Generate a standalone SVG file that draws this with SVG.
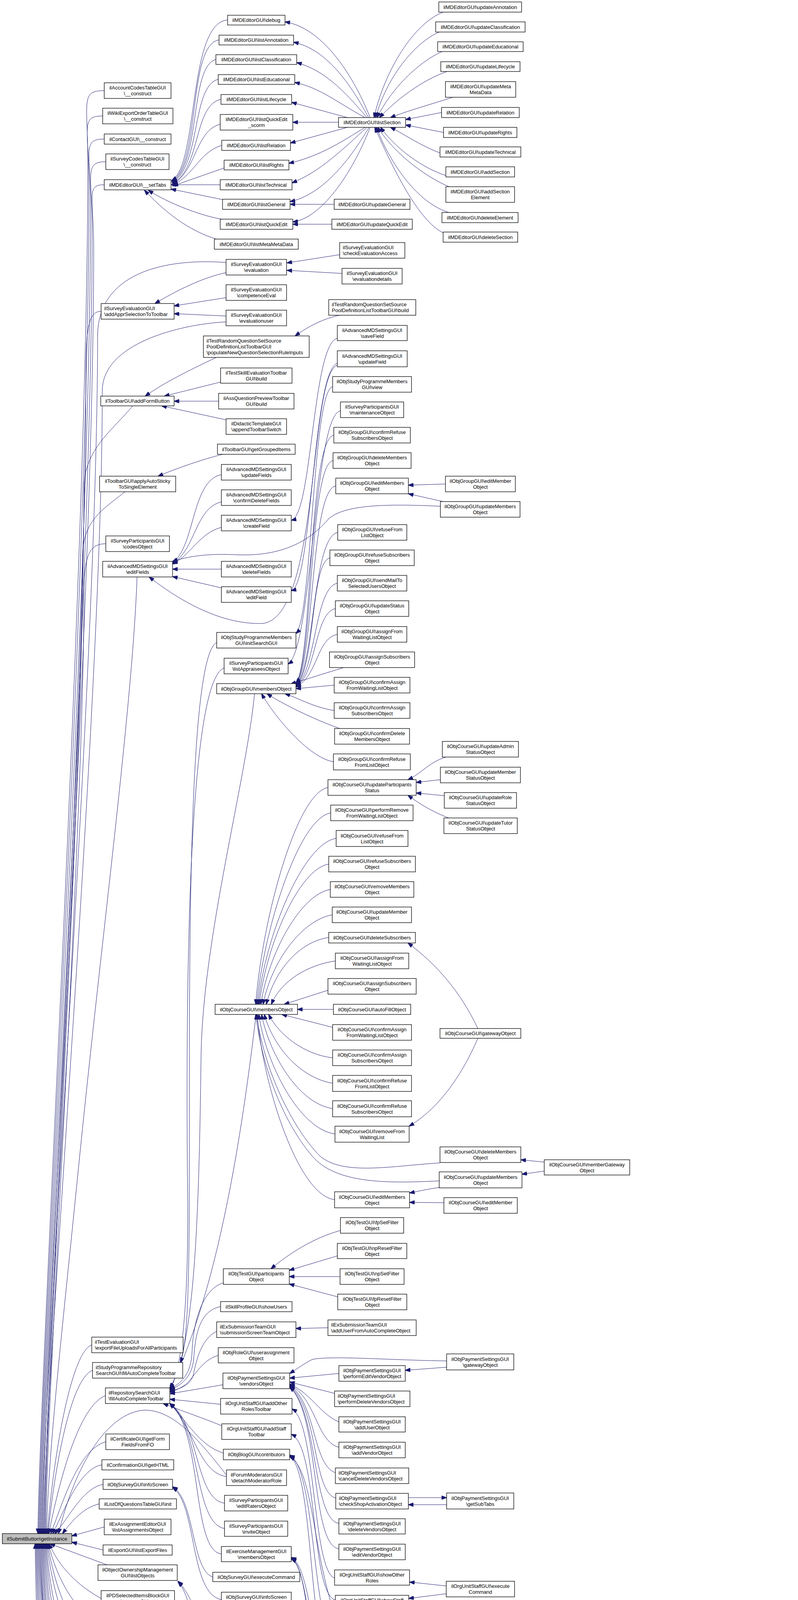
<svg xmlns="http://www.w3.org/2000/svg" width="2044" height="5769" viewBox="0 0 2044 5769">
<style>
.n rect{fill:#fff;stroke:#000;stroke-width:1.3}
#n_root rect{fill:#bfbfbf}
text{font-family:"Liberation Sans",Arial,Helvetica,sans-serif;font-size:13px;fill:#000;text-anchor:middle}
text.l{text-anchor:start}
#edges path{fill:none;stroke:#191970;stroke-width:1;marker-end:url(#ah)}
</style>
<defs>
<marker id="ah" viewBox="0 0 14 10" markerWidth="14" markerHeight="10" refX="13" refY="5" orient="auto" markerUnits="userSpaceOnUse"><path d="M0,0L14,5L0,10z" fill="#191970" stroke="#191970"/></marker>
</defs>
<rect width="2044" height="5769" fill="#fff"/>
<g id="edges">
<path d="M267,232 C205,232 225,260 225,420 C225,1400 102,3500 97,3926"/>
<path d="M263,297 C205,297 228,325 228,480 C228,1450 104,3500 99,3926"/>
<path d="M267,356 C210,356 232,385 232,530 C232,1500 106,3500 101,3926"/>
<path d="M271,414 C215,414 236,445 236,590 C236,1550 108,3500 103,3926"/>
<path d="M267,473 C220,473 240,500 240,640 C240,1600 110,3500 105,3926"/>
<path d="M579,672 C420,660 250,700 250,860 C250,1700 112,3500 107,3926"/>
<path d="M259,797 C230,797 220,830 220,950 C220,1800 114,3500 109,3926"/>
<path d="M579,824 C460,830 262,880 262,1000 C262,1800 116,3500 111,3926"/>
<path d="M340,1039 C290,1100 215,1150 215,1250 C215,1900 118,3500 113,3926"/>
<path d="M320,1259 C270,1300 212,1330 212,1420 C212,2000 120,3500 115,3926"/>
<path d="M271,1392 C230,1392 215,1420 215,1520 C215,2100 122,3500 117,3926"/>
<path d="M351,1477 C340,1800 260,2400 200,3000 C160,3400 125,3700 119,3926"/>
<path d="M235,3443 C185,3460 140,3700 121,3926"/>
<path d="M237,3508 C180,3530 140,3760 123,3926"/>
<path d="M270,3573 C200,3600 150,3800 125,3926"/>
<path d="M580,3776 C520,3700 450,3610 372,3610 C290,3612 200,3720 150,3926"/>
<path d="M271,3691 C200,3710 160,3850 130,3926"/>
<path d="M261,3750 C200,3760 160,3880 135,3926"/>
<path d="M264,3800 C210,3810 175,3890 140,3926"/>
<path d="M254,3850 C210,3860 180,3900 160,3926"/>
<path d="M267,3909 L184,3932"/>
<path d="M264,3968 L184,3948"/>
<path d="M274,4006 L128,3952"/>
<path d="M259,4092 C200,4060 150,4010 126,3952"/>
<path d="M251,4157 C190,4120 145,4040 124,3952"/>
<path d="M257,4223 C180,4180 140,4060 122,3952"/>
<path d="M260,4288 C180,4240 135,4080 120,3952"/>
<path d="M260,4353 C170,4300 130,4100 118,3952"/>
<path d="M258,4419 C165,4360 128,4120 116,3952"/>
<path d="M261,4484 C160,4420 125,4140 114,3952"/>
<path d="M283,4543 C160,4480 122,4160 112,3952"/>
<path d="M269,4601 C150,4540 120,4180 110,3952"/>
<path d="M282,4667 C150,4600 118,4200 108,3952"/>
<path d="M274,4732 C150,4660 116,4220 106,3952"/>
<path d="M272,4797 C145,4720 114,4240 104,3952"/>
<path d="M256,4855 C190,4820 112,4300 102,3952"/>
<path d="M305,4956 C230,4900 110,4350 100,3952"/>
<path d="M330,5139 C250,5030 108,4400 98,3952"/>
<path d="M337,5336 C240,5200 106,4450 96,3952"/>
<path d="M316,5460 C220,5350 104,4500 94,3952"/>
<path d="M330,5606 C210,5480 102,4550 92,3952"/>
<path d="M279,5669 C200,5660 100,4700 90,3952"/>
<path d="M1135,31 C1060,60 985,180 958,301"/>
<path d="M1125,82 C1060,110 990,200 962,301"/>
<path d="M1132,132 C1070,160 1000,230 966,301"/>
<path d="M1145,183 C1080,205 1010,260 972,301"/>
<path d="M1160,249 C1110,265 1040,285 1000,301"/>
<path d="M1131,288 L1039,306"/>
<path d="M1136,339 L1039,320"/>
<path d="M1165,402 C1100,390 1040,345 1000,326"/>
<path d="M1155,453 C1100,440 1020,390 975,326"/>
<path d="M1155,480 C1080,450 1000,380 968,326"/>
<path d="M1150,544 C1070,520 1000,420 964,326"/>
<path d="M1145,600 C1080,580 1010,440 960,326"/>
<path d="M948,301 C900,180 820,70 730,56"/>
<path d="M944,301 C890,200 830,125 752,108"/>
<path d="M940,301 C880,230 830,180 760,160"/>
<path d="M935,301 C860,260 820,225 755,211"/>
<path d="M890,301 L747,262"/>
<path d="M867,313 L750,313"/>
<path d="M890,326 L744,366"/>
<path d="M935,326 C880,360 820,400 740,418"/>
<path d="M940,326 C880,380 820,440 748,468"/>
<path d="M945,326 C890,420 820,500 743,516"/>
<path d="M948,326 C900,450 820,560 750,568"/>
<path d="M856,523 L743,523"/>
<path d="M850,574 L750,574"/>
<path d="M583,51 C480,60 510,420 440,462"/>
<path d="M561,102 C480,115 515,420 440,464"/>
<path d="M553,152 C485,170 515,420 441,466"/>
<path d="M559,203 C490,220 515,425 441,468"/>
<path d="M566,254 C495,270 515,430 442,470"/>
<path d="M564,318 C500,335 505,435 442,472"/>
<path d="M568,372 C510,390 500,445 443,474"/>
<path d="M574,430 L443,476"/>
<path d="M564,473 L438,473"/>
<path d="M575,512 L438,484"/>
<path d="M575,562 C520,555 430,520 380,487"/>
<path d="M557,613 C480,590 420,540 370,487"/>
<path d="M870,652 L735,673"/>
<path d="M876,700 L735,692"/>
<path d="M579,698 C520,710 450,745 397,777"/>
<path d="M579,762 L446,783"/>
<path d="M579,809 L446,803"/>
<path d="M554,915 C480,950 420,980 372,1014"/>
<path d="M870,807 C830,815 790,835 756,860"/>
<path d="M565,978 L421,1014"/>
<path d="M560,1027 L446,1027"/>
<path d="M580,1075 L414,1039"/>
<path d="M575,1162 C520,1175 450,1200 405,1219"/>
<path d="M567,1215 C490,1230 500,1400 442,1440"/>
<path d="M567,1285 C500,1300 500,1410 442,1442"/>
<path d="M567,1350 C510,1365 490,1420 442,1444"/>
<path d="M567,1457 L442,1457"/>
<path d="M567,1505 L442,1476"/>
<path d="M864,866 C800,880 800,1320 746,1332"/>
<path d="M864,930 C800,950 800,1500 746,1512"/>
<path d="M864,935 C790,960 820,1580 673,1596 C560,1600 450,1530 382,1477"/>
<path d="M1128,1296 C1000,1290 880,1290 840,1330 C780,1400 700,1425 600,1420 C520,1416 470,1428 442,1437"/>
<path d="M852,990 C800,1000 800,1580 758,1622"/>
<path d="M872,1052 C805,1060 800,1660 738,1700"/>
<path d="M855,1114 C790,1125 800,1700 758,1748"/>
<path d="M853,1179 C792,1190 802,1700 758,1750"/>
<path d="M860,1244 C795,1255 804,1705 758,1752"/>
<path d="M865,1363 C800,1375 806,1710 758,1754"/>
<path d="M845,1428 C795,1440 808,1715 758,1755"/>
<path d="M864,1493 C805,1505 810,1720 758,1757"/>
<path d="M859,1558 C805,1570 812,1725 758,1758"/>
<path d="M864,1624 C810,1635 815,1730 758,1759"/>
<path d="M880,1709 L745,1751"/>
<path d="M856,1754 L758,1763"/>
<path d="M856,1819 C800,1810 760,1785 730,1776"/>
<path d="M870,1865 C800,1840 720,1800 684,1776"/>
<path d="M854,1950 C790,1940 700,1830 670,1776"/>
<path d="M1141,1239 L1046,1242"/>
<path d="M1135,1284 L1046,1264"/>
<path d="M652,1776 C630,2000 520,2400 515,2700 C510,3100 500,3450 435,3553"/>
<path d="M656,2597 C620,2900 560,3300 435,3556"/>
<path d="M555,1645 C480,1680 485,2500 485,3000 C485,3300 480,3440 462,3488"/>
<path d="M574,1710 C490,1740 475,2400 480,3000 C485,3300 470,3500 435,3558"/>
<path d="M840,2016 C760,2030 672,2350 655,2571"/>
<path d="M847,2081 C765,2095 675,2380 658,2571"/>
<path d="M861,2146 C775,2160 678,2400 661,2571"/>
<path d="M842,2212 C765,2225 682,2420 664,2571"/>
<path d="M846,2277 C770,2290 688,2440 668,2571"/>
<path d="M851,2342 C775,2355 695,2460 674,2571"/>
<path d="M842,2400 C770,2410 705,2480 682,2571"/>
<path d="M859,2460 C790,2470 720,2510 695,2571"/>
<path d="M840,2535 L728,2571"/>
<path d="M854,2584 L762,2584"/>
<path d="M852,2630 L722,2597"/>
<path d="M852,2708 C780,2700 715,2650 688,2597"/>
<path d="M852,2773 C770,2760 700,2680 677,2597"/>
<path d="M852,2838 C765,2825 690,2700 670,2597"/>
<path d="M858,2903 C765,2890 680,2720 663,2597"/>
<path d="M857,3071 C760,3060 670,2760 659,2597"/>
<path d="M1127,2977 C1000,2985 880,3010 820,2960 C760,2900 680,2760 657,2597"/>
<path d="M1125,3023 C990,3030 860,3030 800,2960 C740,2890 675,2760 655,2597"/>
<path d="M1143,1938 C1100,1950 1080,1980 1045,1996"/>
<path d="M1128,1996 L1066,2003"/>
<path d="M1138,2037 L1066,2030"/>
<path d="M1150,2094 C1110,2080 1070,2055 1045,2036"/>
<path d="M1224,2633 C1180,2540 1120,2470 1045,2414"/>
<path d="M1224,2658 C1180,2760 1120,2840 1048,2883"/>
<path d="M1394,2975 L1334,2969"/>
<path d="M1394,2998 L1337,3006"/>
<path d="M1125,3040 C1100,3043 1070,3050 1049,3054"/>
<path d="M1137,3079 L1049,3078"/>
<path d="M872,3150 C800,3170 740,3210 694,3248"/>
<path d="M864,3215 L741,3252"/>
<path d="M871,3268 L741,3268"/>
<path d="M865,3320 L741,3287"/>
<path d="M572,3284 C520,3300 495,3380 492,3460 C490,3510 470,3540 435,3555"/>
<path d="M565,3345 C510,3355 500,3420 496,3480 C492,3520 470,3545 435,3558"/>
<path d="M840,3399 L758,3401"/>
<path d="M555,3408 C510,3430 500,3500 495,3520 C490,3540 470,3555 435,3561"/>
<path d="M559,3470 C520,3480 500,3520 480,3540 C470,3550 450,3560 435,3564"/>
<path d="M571,3545 L435,3568"/>
<path d="M565,3595 L435,3582"/>
<path d="M568,3650 C520,3630 460,3610 418,3593"/>
<path d="M572,3720 C510,3700 480,3640 435,3593"/>
<path d="M580,3780 C510,3770 500,3660 435,3593"/>
<path d="M575,3848 C500,3840 510,3640 435,3593"/>
<path d="M575,3913 C495,3900 515,3650 435,3593"/>
<path d="M567,3978 C490,3970 520,3660 435,3593"/>
<path d="M545,4037 C490,4020 500,3840 442,3806"/>
<path d="M567,4095 C485,4080 505,3850 442,3808"/>
<path d="M868,3516 L742,3528"/>
<path d="M857,3567 L742,3538"/>
<path d="M868,3640 C820,3620 800,3570 742,3543"/>
<path d="M868,3705 C810,3690 810,3580 742,3545"/>
<path d="M859,3770 C800,3750 810,3590 742,3547"/>
<path d="M860,3835 C800,3820 815,3600 742,3549"/>
<path d="M868,3900 C800,3890 815,3610 742,3550"/>
<path d="M868,3965 C795,3955 820,3620 742,3551"/>
<path d="M1144,3484 C1000,3482 850,3470 800,3480 C780,3490 760,3505 742,3516"/>
<path d="M1144,3500 L1038,3508"/>
<path d="M1046,3834 L1144,3834"/>
<path d="M1144,3852 L1046,3852"/>
<path d="M857,4040 C800,4020 810,3640 748,3607"/>
<path d="M859,4096 C795,4080 815,3700 746,3672"/>
<path d="M1143,4060 L1049,4050"/>
<path d="M1143,4080 L1047,4092"/>
<path d="M859,4198 C800,4180 810,3760 742,3725"/>
<path d="M849,4250 C790,4230 805,3770 742,3727"/>
<path d="M1139,4168 C1000,4172 900,4150 850,4110 C800,3950 800,3760 742,3729"/>
<path d="M1139,4186 L1047,4192"/>
<path d="M864,4305 C800,4290 800,4010 746,3987"/>
<path d="M840,4370 C790,4360 800,4015 746,3989"/>
<path d="M864,4435 C795,4425 805,4020 746,3991"/>
<path d="M555,4160 C500,4150 490,4080 456,4048"/>
<path d="M555,4225 C490,4210 495,4090 456,4050"/>
<path d="M575,4285 C520,4275 500,4200 456,4178"/>
<path d="M575,4282 L448,4245"/>
<path d="M871,4500 C800,4490 800,4320 738,4298"/>
<path d="M1160,4458 C1100,4470 1060,4480 1035,4490"/>
<path d="M1134,4504 L1035,4504"/>
<path d="M545,4357 L445,4355"/>
<path d="M561,4422 L448,4420"/>
<path d="M561,4487 C530,4480 480,4440 448,4437"/>
<path d="M572,4573 L436,4590"/>
<path d="M582,4645 C530,4660 470,4700 431,4712"/>
<path d="M878,4585 L731,4612"/>
<path d="M731,4635 C780,4640 840,4655 878,4668"/>
<path d="M878,4680 C820,4675 770,4660 724,4648"/>
<path d="M430,4725 C600,4715 800,4695 878,4693"/>
<path d="M731,4624 C900,4610 1050,4595 1155,4587"/>
<path d="M431,4735 C650,4745 850,4780 950,4822 C1020,4855 1080,4890 1155,4911"/>
<path d="M1160,4589 C1110,4605 1070,4640 1028,4668"/>
<path d="M1428,4632 C1250,4640 1100,4660 1028,4676"/>
<path d="M1153,4687 L1028,4687"/>
<path d="M1428,4792 C1250,4752 1100,4715 1028,4699"/>
<path d="M1160,4785 C1100,4770 1060,4730 1028,4704"/>
<path d="M1145,4855 C1090,4840 1070,4760 1028,4706"/>
<path d="M1155,4930 C1100,4920 1090,4800 1028,4707"/>
<path d="M1428,4829 L1316,4849"/>
<path d="M1428,4517 L1306,4552"/>
<path d="M1428,4566 L1306,4569"/>
<path d="M1428,4613 L1306,4587"/>
<path d="M1675,4631 L1579,4631"/>
<path d="M1675,4774 L1579,4793"/>
<path d="M1660,4813 L1579,4813"/>
<path d="M1888,4756 L1825,4756"/>
<path d="M600,4800 C540,4812 480,4828 432,4841"/>
<path d="M559,4847 L449,4857"/>
<path d="M559,4897 L449,4879"/>
<path d="M575,4958 C520,4945 440,4915 393,4882"/>
<path d="M567,5013 L442,4993"/>
<path d="M560,5115 L441,5139"/>
<path d="M558,5160 L441,5160"/>
<path d="M560,5205 L441,5181"/>
<path d="M560,5271 C520,5260 440,5220 386,5180"/>
<path d="M864,5094 L758,5095"/>
<path d="M868,5153 L755,5157"/>
<path d="M869,5204 L755,5218"/>
<path d="M854,5305 L752,5296"/>
<path d="M1118,5278 C1000,5277 850,5278 752,5283"/>
<path d="M1118,5290 L1052,5296"/>
<path d="M565,5349 L436,5349"/>
<path d="M580,5387 L430,5362"/>
<path d="M864,5355 L748,5352"/>
<path d="M890,5392 L730,5362"/>
<path d="M872,5478 C700,5470 550,5475 434,5476"/>
<path d="M575,5502 L434,5489"/>
<path d="M872,5564 C700,5565 550,5550 400,5500"/>
<path d="M872,5493 L737,5502"/>
<path d="M872,5546 L737,5524"/>
<path d="M1150,5486 L1034,5486"/>
<path d="M864,5625 L474,5620"/>
<path d="M565,5660 L420,5631"/>
<path d="M554,5727 C510,5715 500,5680 449,5631"/>
<path d="M875,5639 L748,5659"/>
<path d="M855,5678 L748,5678"/>
<path d="M1141,5626 L1042,5626"/>
</g>
<g id="n_root" class="n"><rect x="6" y="3926" width="178" height="26"/><text x="95" y="3943.5">ilSubmitButton\getInstance</text></g>
<g id="n_acct" class="n"><rect x="267" y="212" width="171" height="40"/><text x="352.5" y="229">ilAccountCodesTableGUI</text><text x="352.5" y="244">\__construct</text></g>
<g id="n_wiki" class="n"><rect x="263" y="277" width="180" height="40"/><text x="353" y="294">ilWikiExportOrderTableGUI</text><text x="353" y="309">\__construct</text></g>
<g id="n_contact" class="n"><rect x="267" y="343" width="171" height="26"/><text x="352.5" y="360.5">ilContactGUI\__construct</text></g>
<g id="n_svcodes" class="n"><rect x="271" y="394" width="162" height="40"/><text x="352" y="411">ilSurveyCodesTableGUI</text><text x="352" y="426">\__construct</text></g>
<g id="n_settabs" class="n"><rect x="267" y="460" width="171" height="26"/><text x="352.5" y="477.5">ilMDEditorGUI\__setTabs</text></g>
<g id="n_appr" class="n"><rect x="259" y="777" width="187" height="40"/><text class="l" x="267" y="794">ilSurveyEvaluationGUI</text><text class="l" x="267" y="809">\addApprSelectionToToolbar</text></g>
<g id="n_addform" class="n"><rect x="258" y="1014" width="188" height="25"/><text x="352" y="1031">ilToolbarGUI\addFormButton</text></g>
<g id="n_sticky" class="n"><rect x="255" y="1219" width="195" height="40"/><text x="352.5" y="1236">ilToolbarGUI\applyAutoSticky</text><text x="352.5" y="1251">ToSingleElement</text></g>
<g id="n_codes" class="n"><rect x="271" y="1372" width="163" height="40"/><text x="352.5" y="1389">ilSurveyParticipantsGUI</text><text x="352.5" y="1404">\codesObject</text></g>
<g id="n_editfields" class="n"><rect x="263" y="1437" width="179" height="40"/><text x="352.5" y="1454">ilAdvancedMDSettingsGUI</text><text x="352.5" y="1469">\editFields</text></g>
<g id="n_exportfu" class="n"><rect x="235" y="3423" width="234" height="40"/><text class="l" x="243" y="3440">ilTestEvaluationGUI</text><text class="l" x="243" y="3455">\exportFileUploadsForAllParticipants</text></g>
<g id="n_sprepo" class="n"><rect x="237" y="3488" width="231" height="40"/><text class="l" x="245" y="3505">ilStudyProgrammeRepository</text><text class="l" x="245" y="3520">SearchGUI\fillAutoCompleteToolbar</text></g>
<g id="n_reposearch" class="n"><rect x="270" y="3553" width="165" height="40"/><text class="l" x="278" y="3570">ilRepositorySearchGUI</text><text class="l" x="278" y="3585">\fillAutoCompleteToolbar</text></g>
<g id="n_cert" class="n"><rect x="271" y="3671" width="163" height="40"/><text x="352.5" y="3688">ilCertificateGUI\getForm</text><text x="352.5" y="3703">FieldsFromFO</text></g>
<g id="n_confirm" class="n"><rect x="261" y="3737" width="184" height="26"/><text x="353" y="3754.5">ilConfirmationGUI\getHTML</text></g>
<g id="n_infoscreen" class="n"><rect x="264" y="3787" width="178" height="26"/><text x="353" y="3804.5">ilObjSurveyGUI\infoScreen</text></g>
<g id="n_listq" class="n"><rect x="254" y="3837" width="198" height="26"/><text x="353" y="3854.5">ilListOfQuestionsTableGUI\init</text></g>
<g id="n_exassign" class="n"><rect x="267" y="3889" width="171" height="40"/><text x="352.5" y="3906">ilExAssignmentEditorGUI</text><text x="352.5" y="3921">\listAssignmentsObject</text></g>
<g id="n_export" class="n"><rect x="264" y="3955" width="177" height="26"/><text x="352.5" y="3972.5">ilExportGUI\listExportFiles</text></g>
<g id="n_ownlist" class="n"><rect x="251" y="4006" width="203" height="40"/><text x="352.5" y="4023">ilObjectOwnershipManagement</text><text x="352.5" y="4038">GUI\listObjects</text></g>
<g id="n_pdsel" class="n"><rect x="259" y="4072" width="188" height="40"/><text x="353" y="4089">ilPDSelectedItemsBlockGUI</text><text x="353" y="4104">\manageObject</text></g>
<g id="n_discard" class="n"><rect x="251" y="4137" width="203" height="40"/><text class="l" x="259" y="4154">ilTestPlayerAbstractGUI</text><text class="l" x="259" y="4169">\populateDiscardSolutionModal</text></g>
<g id="n_navwhile" class="n"><rect x="257" y="4203" width="191" height="40"/><text class="l" x="265" y="4220">ilTestPlayerAbstractGUI</text><text class="l" x="265" y="4235">\populateNavWhileEditModal</text></g>
<g id="n_printview" class="n"><rect x="260" y="4268" width="185" height="40"/><text x="352.5" y="4285">ilSurveyEditorGUI\printView</text><text x="352.5" y="4300">Object</text></g>
<g id="n_sedq" class="n"><rect x="260" y="4333" width="185" height="40"/><text x="352.5" y="4350">ilSurveyEditorGUI\questions</text><text x="352.5" y="4365">Object</text></g>
<g id="n_poolq" class="n"><rect x="258" y="4399" width="190" height="40"/><text x="353" y="4416">ilObjSurveyQuestionPoolGUI</text><text x="353" y="4431">\questionsObject</text></g>
<g id="n_redirinfo" class="n"><rect x="261" y="4465" width="182" height="39"/><text x="352" y="4482">ilObjTestGUI\redirectToInfo</text><text x="352" y="4497">ScreenObject</text></g>
<g id="n_blogrender" class="n"><rect x="283" y="4530" width="139" height="25"/><text x="352.5" y="4547">ilObjBlogGUI\render</text></g>
<g id="n_rendersubmit" class="n"><rect x="269" y="4582" width="167" height="39"/><text x="352.5" y="4599">ilTestQuestionNavigation</text><text x="352.5" y="4614">GUI\renderSubmitButton</text></g>
<g id="n_resetfilter" class="n"><rect x="282" y="4647" width="141" height="40"/><text x="352.5" y="4664">ilTestEvaluationGUI</text><text x="352.5" y="4679">\resetfilterEvaluation</text></g>
<g id="n_runfinished" class="n"><rect x="274" y="4712" width="156" height="40"/><text x="352" y="4729">ilSurveyExecutionGUI</text><text x="352" y="4744">\runShowFinishedPage</text></g>
<g id="n_share" class="n"><rect x="272" y="4778" width="162" height="39"/><text x="353" y="4795">ilWorkspaceAccessGUI</text><text x="353" y="4810">\share</text></g>
<g id="n_showmark" class="n"><rect x="256" y="4842" width="193" height="40"/><text x="352.5" y="4859">ilMarkSchemaGUI\showMark</text><text x="352.5" y="4874">Schema</text></g>
<g id="n_showpart" class="n"><rect x="263" y="4956" width="179" height="40"/><text x="352.5" y="4973">ilExerciseManagementGUI</text><text x="352.5" y="4988">\showParticipantObject</text></g>
<g id="n_showpaste" class="n"><rect x="264" y="5139" width="177" height="41"/><text x="352.5" y="5157">ilContainerGUI\showPaste</text><text x="352.5" y="5172">TreeObject</text></g>
<g id="n_showsearch" class="n"><rect x="268" y="5336" width="168" height="26"/><text x="352" y="5353.5">ilSearchGUI\showSearch</text></g>
<g id="n_lusform" class="n"><rect x="272" y="5460" width="162" height="40"/><text x="353" y="5477">ilLuceneUserSearchGUI</text><text x="353" y="5492">\showSearchForm</text></g>
<g id="n_lsform" class="n"><rect x="232" y="5606" width="242" height="25"/><text x="353" y="5623">ilLuceneSearchGUI\showSearchForm</text></g>
<g id="n_exccrit" class="n"><rect x="279" y="5656" width="148" height="26"/><text x="353" y="5673.5">ilExcCriteriaGUI\view</text></g>
<g id="n_debug" class="n"><rect x="583" y="39" width="147" height="25"/><text x="656.5" y="56">ilMDEditorGUI\debug</text></g>
<g id="n_lannot" class="n"><rect x="561" y="90" width="191" height="25"/><text x="656.5" y="107">ilMDEditorGUI\listAnnotation</text></g>
<g id="n_lclass" class="n"><rect x="553" y="140" width="207" height="25"/><text x="656.5" y="157">ilMDEditorGUI\listClassification</text></g>
<g id="n_ledu" class="n"><rect x="559" y="191" width="196" height="25"/><text x="657" y="208">ilMDEditorGUI\listEducational</text></g>
<g id="n_llife" class="n"><rect x="566" y="242" width="181" height="25"/><text x="656.5" y="259">ilMDEditorGUI\listLifecycle</text></g>
<g id="n_lqes" class="n"><rect x="564" y="293" width="186" height="40"/><text x="657" y="310">ilMDEditorGUI\listQuickEdit</text><text x="657" y="325">_scorm</text></g>
<g id="n_lrel" class="n"><rect x="568" y="359" width="176" height="26"/><text x="656" y="376.5">ilMDEditorGUI\listRelation</text></g>
<g id="n_lrights" class="n"><rect x="574" y="410" width="166" height="25"/><text x="657" y="427">ilMDEditorGUI\listRights</text></g>
<g id="n_ltech" class="n"><rect x="564" y="460" width="184" height="26"/><text x="656" y="477.5">ilMDEditorGUI\listTechnical</text></g>
<g id="n_lgen" class="n"><rect x="570" y="510" width="173" height="26"/><text x="656.5" y="527.5">ilMDEditorGUI\listGeneral</text></g>
<g id="n_lqe" class="n"><rect x="564" y="561" width="186" height="26"/><text x="657" y="578.5">ilMDEditorGUI\listQuickEdit</text></g>
<g id="n_lmeta" class="n"><rect x="549" y="612" width="215" height="26"/><text x="656.5" y="629.5">ilMDEditorGUI\listMetaMetaData</text></g>
<g id="n_eval" class="n"><rect x="579" y="664" width="155" height="40"/><text x="656.5" y="681">ilSurveyEvaluationGUI</text><text x="656.5" y="696">\evaluation</text></g>
<g id="n_comp" class="n"><rect x="579" y="729" width="155" height="40"/><text x="656.5" y="746">ilSurveyEvaluationGUI</text><text x="656.5" y="761">\competenceEval</text></g>
<g id="n_evuser" class="n"><rect x="579" y="794" width="155" height="40"/><text x="656.5" y="811">ilSurveyEvaluationGUI</text><text x="656.5" y="826">\evaluationuser</text></g>
<g id="n_popnew" class="n"><rect x="521" y="860" width="271" height="55"/><text class="l" x="529" y="877">ilTestRandomQuestionSetSource</text><text class="l" x="529" y="892">PoolDefinitionListToolbarGUI</text><text class="l" x="529" y="907">\populateNewQuestionSelectionRuleInputs</text></g>
<g id="n_skilltb" class="n"><rect x="565" y="942" width="183" height="39"/><text x="656.5" y="959">ilTestSkillEvaluationToolbar</text><text x="656.5" y="974">GUI\build</text></g>
<g id="n_assprev" class="n"><rect x="560" y="1007" width="193" height="40"/><text x="656.5" y="1024">ilAssQuestionPreviewToolbar</text><text x="656.5" y="1039">GUI\build</text></g>
<g id="n_didactic" class="n"><rect x="579" y="1072" width="155" height="40"/><text x="656.5" y="1089">ilDidacticTemplateGUI</text><text x="656.5" y="1104">\appendToolbarSwitch</text></g>
<g id="n_grouped" class="n"><rect x="557" y="1137" width="199" height="26"/><text x="656.5" y="1154.5">ilToolbarGUI\getGroupedItems</text></g>
<g id="n_updfields" class="n"><rect x="567" y="1189" width="179" height="40"/><text x="656.5" y="1206">ilAdvancedMDSettingsGUI</text><text x="656.5" y="1221">\updateFields</text></g>
<g id="n_confdel" class="n"><rect x="567" y="1254" width="179" height="40"/><text x="656.5" y="1271">ilAdvancedMDSettingsGUI</text><text x="656.5" y="1286">\confirmDeleteFields</text></g>
<g id="n_createf" class="n"><rect x="567" y="1319" width="179" height="40"/><text x="656.5" y="1336">ilAdvancedMDSettingsGUI</text><text x="656.5" y="1351">\createField</text></g>
<g id="n_delf" class="n"><rect x="567" y="1437" width="179" height="40"/><text x="656.5" y="1454">ilAdvancedMDSettingsGUI</text><text x="656.5" y="1469">\deleteFields</text></g>
<g id="n_editf" class="n"><rect x="567" y="1502" width="179" height="40"/><text x="656.5" y="1519">ilAdvancedMDSettingsGUI</text><text x="656.5" y="1534">\editField</text></g>
<g id="n_initsearch" class="n"><rect x="555" y="1619" width="203" height="40"/><text x="656.5" y="1636">ilObjStudyProgrammeMembers</text><text x="656.5" y="1651">GUI\initSearchGUI</text></g>
<g id="n_listappr" class="n"><rect x="574" y="1685" width="164" height="40"/><text x="656" y="1702">ilSurveyParticipantsGUI</text><text x="656" y="1717">\listAppraiseesObject</text></g>
<g id="n_grpmembers" class="n"><rect x="555" y="1750" width="203" height="26"/><text x="656.5" y="1767.5">ilObjGroupGUI\membersObject</text></g>
<g id="n_crsmembers" class="n"><rect x="551" y="2571" width="211" height="26"/><text x="656.5" y="2588.5">ilObjCourseGUI\membersObject</text></g>
<g id="n_participants" class="n"><rect x="572" y="3248" width="169" height="40"/><text x="656.5" y="3265">ilObjTestGUI\participants</text><text x="656.5" y="3280">Object</text></g>
<g id="n_showusers" class="n"><rect x="565" y="3332" width="183" height="26"/><text x="656.5" y="3349.5">ilSkillProfileGUI\showUsers</text></g>
<g id="n_subteam" class="n"><rect x="555" y="3384" width="203" height="40"/><text class="l" x="563" y="3401">ilExSubmissionTeamGUI</text><text class="l" x="563" y="3416">\submissionScreenTeamObject</text></g>
<g id="n_userassign" class="n"><rect x="559" y="3450" width="194" height="39"/><text x="656" y="3467">ilObjRoleGUI\userassignment</text><text x="656" y="3482">Object</text></g>
<g id="n_vendors" class="n"><rect x="571" y="3515" width="171" height="40"/><text x="656.5" y="3532">ilObjPaymentSettingsGUI</text><text x="656.5" y="3547">\vendorsObject</text></g>
<g id="n_addother" class="n"><rect x="565" y="3580" width="183" height="40"/><text x="656.5" y="3597">ilOrgUnitStaffGUI\addOther</text><text x="656.5" y="3612">RolesToolbar</text></g>
<g id="n_addstaff" class="n"><rect x="568" y="3645" width="178" height="40"/><text x="657" y="3662">ilOrgUnitStaffGUI\addStaff</text><text x="657" y="3677">Toolbar</text></g>
<g id="n_contrib" class="n"><rect x="572" y="3710" width="170" height="27"/><text x="657" y="3728">ilObjBlogGUI\contributors</text></g>
<g id="n_detach" class="n"><rect x="580" y="3763" width="154" height="40"/><text x="657" y="3780">ilForumModeratorsGUI</text><text x="657" y="3795">\detachModeratorRole</text></g>
<g id="n_editraters" class="n"><rect x="575" y="3828" width="162" height="40"/><text x="656" y="3845">ilSurveyParticipantsGUI</text><text x="656" y="3860">\editRatersObject</text></g>
<g id="n_invite" class="n"><rect x="575" y="3894" width="162" height="39"/><text x="656" y="3911">ilSurveyParticipantsGUI</text><text x="656" y="3926">\inviteObject</text></g>
<g id="n_exmembers" class="n"><rect x="567" y="3959" width="179" height="39"/><text x="656.5" y="3976">ilExerciseManagementGUI</text><text x="656.5" y="3991">\membersObject</text></g>
<g id="n_svexec" class="n"><rect x="545" y="4025" width="223" height="24"/><text x="656.5" y="4041.5">ilObjSurveyGUI\executeCommand</text></g>
<g id="n_infoobj" class="n"><rect x="567" y="4076" width="179" height="39"/><text x="656.5" y="4093">ilObjSurveyGUI\infoScreen</text><text x="656.5" y="4108">Object</text></g>
<g id="n_ownapply" class="n"><rect x="555" y="4141" width="203" height="40"/><text x="656.5" y="4158">ilObjectOwnershipManagement</text><text x="656.5" y="4173">GUI\applyFilter</text></g>
<g id="n_ownreset" class="n"><rect x="555" y="4207" width="203" height="39"/><text x="656.5" y="4224">ilObjectOwnershipManagement</text><text x="656.5" y="4239">GUI\resetFilter</text></g>
<g id="n_popmodals" class="n"><rect x="575" y="4272" width="163" height="40"/><text x="656.5" y="4289">ilTestPlayerAbstractGUI</text><text x="656.5" y="4304">\populateModals</text></g>
<g id="n_moveq" class="n"><rect x="545" y="4338" width="223" height="39"/><text x="656.5" y="4355">ilSurveyEditorGUI\moveQuestions</text><text x="656.5" y="4370">Object</text></g>
<g id="n_delq" class="n"><rect x="561" y="4403" width="190" height="39"/><text x="656" y="4420">ilObjSurveyQuestionPoolGUI</text><text x="656" y="4435">\deleteQuestionsObject</text></g>
<g id="n_expq" class="n"><rect x="561" y="4469" width="190" height="39"/><text x="656" y="4486">ilObjSurveyQuestionPoolGUI</text><text x="656" y="4501">\exportQuestionObject</text></g>
<g id="n_tqngethtml" class="n"><rect x="572" y="4543" width="168" height="39"/><text x="656" y="4560">ilTestQuestionNavigation</text><text x="656" y="4575">GUI\getHTML</text></g>
<g id="n_outsurvey" class="n"><rect x="582" y="4608" width="149" height="39"/><text x="656.5" y="4625">ilSurveyExecutionGUI</text><text x="656.5" y="4640">\outSurveyPage</text></g>
<g id="n_addmarkstep" class="n"><rect x="551" y="4775" width="211" height="25"/><text x="656.5" y="4792">ilMarkSchemaGUI\addMarkStep</text></g>
<g id="n_addsimple" class="n"><rect x="559" y="4827" width="195" height="40"/><text x="656.5" y="4844">ilMarkSchemaGUI\addSimple</text><text x="656.5" y="4859">MarkSchema</text></g>
<g id="n_delmark" class="n"><rect x="558" y="4892" width="198" height="40"/><text x="657" y="4909">ilMarkSchemaGUI\deleteMark</text><text x="657" y="4924">Steps</text></g>
<g id="n_saveects" class="n"><rect x="547" y="4958" width="219" height="26"/><text x="656.5" y="4975.5">ilMarkSchemaGUI\saveEctsForm</text></g>
<g id="n_selpart" class="n"><rect x="567" y="5009" width="179" height="41"/><text x="656.5" y="5027">ilExerciseManagementGUI</text><text x="656.5" y="5042">\selectParticipantObject</text></g>
<g id="n_initcopy" class="n"><rect x="555" y="5074" width="203" height="41"/><text x="656.5" y="5092">ilContainerGUI\initAndDisplay</text><text x="656.5" y="5107">CopyIntoMultipleObjectsObject</text></g>
<g id="n_initlink" class="n"><rect x="558" y="5140" width="197" height="40"/><text x="656.5" y="5157">ilContainerGUI\initAndDisplay</text><text x="656.5" y="5172">LinkIntoMultipleObjectsObject</text></g>
<g id="n_initmove" class="n"><rect x="558" y="5205" width="197" height="40"/><text x="656.5" y="5222">ilContainerGUI\initAndDisplay</text><text x="656.5" y="5237">MoveIntoObjectObject</text></g>
<g id="n_performpaste" class="n"><rect x="561" y="5271" width="191" height="40"/><text x="656.5" y="5288">ilContainerGUI\performPaste</text><text x="656.5" y="5303">IntoMultipleObjectsObject</text></g>
<g id="n_sperform" class="n"><rect x="565" y="5336" width="183" height="26"/><text x="656.5" y="5353.5">ilSearchGUI\performSearch</text></g>
<g id="n_ssaved" class="n"><rect x="551" y="5387" width="211" height="26"/><text x="656.5" y="5404.5">ilSearchGUI\showSavedResults</text></g>
<g id="n_lusperform" class="n"><rect x="575" y="5490" width="162" height="39"/><text x="656" y="5507">ilLuceneUserSearchGUI</text><text x="656" y="5522">\performSearch</text></g>
<g id="n_lsperform" class="n"><rect x="565" y="5658" width="183" height="39"/><text x="656.5" y="5675">ilLuceneSearchGUI\perform</text><text x="656.5" y="5690">Search</text></g>
<g id="n_lssaved" class="n"><rect x="554" y="5723" width="206" height="39"/><text x="657" y="5740">ilLuceneSearchGUI\showSaved</text><text x="657" y="5755">Results</text></g>
<g id="n_listsection" class="n"><rect x="867" y="301" width="172" height="25"/><text x="953" y="318">ilMDEditorGUI\listSection</text></g>
<g id="n_updgen" class="n"><rect x="856" y="510" width="194" height="26"/><text x="953" y="527.5">ilMDEditorGUI\updateGeneral</text></g>
<g id="n_updqe" class="n"><rect x="850" y="561" width="206" height="26"/><text x="953" y="578.5">ilMDEditorGUI\updateQuickEdit</text></g>
<g id="n_checkeval" class="n"><rect x="870" y="621" width="167" height="40"/><text class="l" x="878" y="638">ilSurveyEvaluationGUI</text><text class="l" x="878" y="653">\checkEvaluationAccess</text></g>
<g id="n_evaldet" class="n"><rect x="876" y="687" width="154" height="40"/><text x="953" y="704">ilSurveyEvaluationGUI</text><text x="953" y="719">\evaluationdetails</text></g>
<g id="n_trbuild" class="n"><rect x="842" y="767" width="223" height="40"/><text class="l" x="850" y="784">ilTestRandomQuestionSetSource</text><text class="l" x="850" y="799">PoolDefinitionListToolbarGUI\build</text></g>
<g id="n_savefield" class="n"><rect x="864" y="833" width="179" height="39"/><text x="953.5" y="850">ilAdvancedMDSettingsGUI</text><text x="953.5" y="865">\saveField</text></g>
<g id="n_updfield" class="n"><rect x="864" y="898" width="179" height="41"/><text x="953.5" y="916">ilAdvancedMDSettingsGUI</text><text x="953.5" y="931">\updateField</text></g>
<g id="n_spview" class="n"><rect x="852" y="964" width="202" height="40"/><text x="953" y="981">ilObjStudyProgrammeMembers</text><text x="953" y="996">GUI\view</text></g>
<g id="n_maint" class="n"><rect x="872" y="1029" width="162" height="40"/><text x="953" y="1046">ilSurveyParticipantsGUI</text><text x="953" y="1061">\maintenanceObject</text></g>
<g id="n_g_confrefsub" class="n"><rect x="855" y="1094" width="196" height="40"/><text x="953" y="1111">ilObjGroupGUI\confirmRefuse</text><text x="953" y="1126">SubscribersObject</text></g>
<g id="n_g_delmem" class="n"><rect x="853" y="1159" width="200" height="40"/><text x="953" y="1176">ilObjGroupGUI\deleteMembers</text><text x="953" y="1191">Object</text></g>
<g id="n_g_editmem" class="n"><rect x="860" y="1224" width="186" height="40"/><text x="953" y="1241">ilObjGroupGUI\editMembers</text><text x="953" y="1256">Object</text></g>
<g id="n_g_reffrom" class="n"><rect x="865" y="1343" width="177" height="40"/><text x="953.5" y="1360">ilObjGroupGUI\refuseFrom</text><text x="953.5" y="1375">ListObject</text></g>
<g id="n_g_refsub" class="n"><rect x="845" y="1408" width="216" height="40"/><text x="953" y="1425">ilObjGroupGUI\refuseSubscribers</text><text x="953" y="1440">Object</text></g>
<g id="n_g_sendmail" class="n"><rect x="864" y="1473" width="178" height="40"/><text x="953" y="1490">ilObjGroupGUI\sendMailTo</text><text x="953" y="1505">SelectedUsersObject</text></g>
<g id="n_g_updstatus" class="n"><rect x="859" y="1538" width="188" height="40"/><text x="953" y="1555">ilObjGroupGUI\updateStatus</text><text x="953" y="1570">Object</text></g>
<g id="n_g_assignwait" class="n"><rect x="864" y="1604" width="178" height="40"/><text x="953" y="1621">ilObjGroupGUI\assignFrom</text><text x="953" y="1636">WaitingListObject</text></g>
<g id="n_g_assignsub" class="n"><rect x="844" y="1669" width="218" height="40"/><text x="953" y="1686">ilObjGroupGUI\assignSubscribers</text><text x="953" y="1701">Object</text></g>
<g id="n_g_confassignwait" class="n"><rect x="856" y="1734" width="194" height="40"/><text x="953" y="1751">ilObjGroupGUI\confirmAssign</text><text x="953" y="1766">FromWaitingListObject</text></g>
<g id="n_g_confassignsub" class="n"><rect x="856" y="1799" width="194" height="40"/><text x="953" y="1816">ilObjGroupGUI\confirmAssign</text><text x="953" y="1831">SubscribersObject</text></g>
<g id="n_g_confdelmem" class="n"><rect x="857" y="1865" width="192" height="40"/><text x="953" y="1882">ilObjGroupGUI\confirmDelete</text><text x="953" y="1897">MembersObject</text></g>
<g id="n_g_confreffrom" class="n"><rect x="854" y="1930" width="197" height="41"/><text x="952.5" y="1948">ilObjGroupGUI\confirmRefuse</text><text x="952.5" y="1963">FromListObject</text></g>
<g id="n_c_updpart" class="n"><rect x="840" y="1996" width="226" height="40"/><text x="953" y="2013">ilObjCourseGUI\updateParticipants</text><text x="953" y="2028">Status</text></g>
<g id="n_c_perfremove" class="n"><rect x="847" y="2061" width="211" height="40"/><text x="952.5" y="2078">ilObjCourseGUI\performRemove</text><text x="952.5" y="2093">FromWaitingListObject</text></g>
<g id="n_c_reffrom" class="n"><rect x="861" y="2126" width="184" height="41"/><text x="953" y="2144">ilObjCourseGUI\refuseFrom</text><text x="953" y="2159">ListObject</text></g>
<g id="n_c_refsub" class="n"><rect x="842" y="2192" width="222" height="40"/><text x="953" y="2209">ilObjCourseGUI\refuseSubscribers</text><text x="953" y="2224">Object</text></g>
<g id="n_c_remmem" class="n"><rect x="846" y="2257" width="214" height="40"/><text x="953" y="2274">ilObjCourseGUI\removeMembers</text><text x="953" y="2289">Object</text></g>
<g id="n_c_updmem" class="n"><rect x="851" y="2322" width="203" height="40"/><text x="952.5" y="2339">ilObjCourseGUI\updateMember</text><text x="952.5" y="2354">Object</text></g>
<g id="n_c_delsub" class="n"><rect x="842" y="2387" width="222" height="27"/><text x="953" y="2405">ilObjCourseGUI\deleteSubscribers</text></g>
<g id="n_c_assignwait" class="n"><rect x="859" y="2440" width="188" height="40"/><text x="953" y="2457">ilObjCourseGUI\assignFrom</text><text x="953" y="2472">WaitingListObject</text></g>
<g id="n_c_assignsub" class="n"><rect x="840" y="2505" width="226" height="40"/><text x="953" y="2522">ilObjCourseGUI\assignSubscribers</text><text x="953" y="2537">Object</text></g>
<g id="n_c_autofill" class="n"><rect x="854" y="2571" width="198" height="26"/><text x="953" y="2588.5">ilObjCourseGUI\autoFillObject</text></g>
<g id="n_c_confassignwait" class="n"><rect x="852" y="2623" width="202" height="40"/><text x="953" y="2640">ilObjCourseGUI\confirmAssign</text><text x="953" y="2655">FromWaitingListObject</text></g>
<g id="n_c_confassignsub" class="n"><rect x="852" y="2688" width="202" height="40"/><text x="953" y="2705">ilObjCourseGUI\confirmAssign</text><text x="953" y="2720">SubscribersObject</text></g>
<g id="n_c_confreffrom" class="n"><rect x="852" y="2753" width="202" height="41"/><text x="953" y="2771">ilObjCourseGUI\confirmRefuse</text><text x="953" y="2786">FromListObject</text></g>
<g id="n_c_confrefsub" class="n"><rect x="852" y="2818" width="202" height="41"/><text x="953" y="2836">ilObjCourseGUI\confirmRefuse</text><text x="953" y="2851">SubscribersObject</text></g>
<g id="n_c_remwait" class="n"><rect x="858" y="2883" width="190" height="41"/><text x="953" y="2901">ilObjCourseGUI\removeFrom</text><text x="953" y="2916">WaitingList</text></g>
<g id="n_c_editmems" class="n"><rect x="857" y="3051" width="192" height="41"/><text x="953" y="3069">ilObjCourseGUI\editMembers</text><text x="953" y="3084">Object</text></g>
<g id="n_t_fpset" class="n"><rect x="872" y="3117" width="162" height="40"/><text x="953" y="3134">ilObjTestGUI\fpSetFilter</text><text x="953" y="3149">Object</text></g>
<g id="n_t_npreset" class="n"><rect x="864" y="3183" width="178" height="39"/><text x="953" y="3200">ilObjTestGUI\npResetFilter</text><text x="953" y="3215">Object</text></g>
<g id="n_t_npset" class="n"><rect x="871" y="3248" width="164" height="40"/><text x="953" y="3265">ilObjTestGUI\npSetFilter</text><text x="953" y="3280">Object</text></g>
<g id="n_t_fpreset" class="n"><rect x="865" y="3313" width="177" height="40"/><text x="953.5" y="3330">ilObjTestGUI\fpResetFilter</text><text x="953.5" y="3345">Object</text></g>
<g id="n_exaddauto" class="n"><rect x="840" y="3379" width="226" height="40"/><text class="l" x="848" y="3396">ilExSubmissionTeamGUI</text><text class="l" x="848" y="3411">\addUserFromAutoCompleteObject</text></g>
<g id="n_p_perfedit" class="n"><rect x="868" y="3496" width="170" height="40"/><text x="953" y="3513">ilObjPaymentSettingsGUI</text><text x="953" y="3528">\performEditVendorObject</text></g>
<g id="n_p_perfdel" class="n"><rect x="857" y="3561" width="193" height="40"/><text class="l" x="865" y="3578">ilObjPaymentSettingsGUI</text><text class="l" x="865" y="3593">\performDeleteVendorsObject</text></g>
<g id="n_p_adduser" class="n"><rect x="868" y="3627" width="170" height="39"/><text x="953" y="3644">ilObjPaymentSettingsGUI</text><text x="953" y="3659">\addUserObject</text></g>
<g id="n_p_addvendor" class="n"><rect x="868" y="3692" width="170" height="40"/><text x="953" y="3709">ilObjPaymentSettingsGUI</text><text x="953" y="3724">\addVendorObject</text></g>
<g id="n_p_canceldel" class="n"><rect x="859" y="3758" width="188" height="40"/><text class="l" x="867" y="3775">ilObjPaymentSettingsGUI</text><text class="l" x="867" y="3790">\cancelDeleteVendorsObject</text></g>
<g id="n_p_checkshop" class="n"><rect x="860" y="3823" width="186" height="40"/><text class="l" x="868" y="3840">ilObjPaymentSettingsGUI</text><text class="l" x="868" y="3855">\checkShopActivationObject</text></g>
<g id="n_p_delvendors" class="n"><rect x="868" y="3888" width="170" height="39"/><text x="953" y="3905">ilObjPaymentSettingsGUI</text><text x="953" y="3920">\deleteVendorsObject</text></g>
<g id="n_p_editvendor" class="n"><rect x="868" y="3953" width="170" height="40"/><text x="953" y="3970">ilObjPaymentSettingsGUI</text><text x="953" y="3985">\editVendorObject</text></g>
<g id="n_o_showother" class="n"><rect x="857" y="4019" width="192" height="39"/><text x="953" y="4036">ilOrgUnitStaffGUI\showOther</text><text x="953" y="4051">Roles</text></g>
<g id="n_o_showstaff" class="n"><rect x="859" y="4084" width="188" height="25"/><text x="953" y="4101">ilOrgUnitStaffGUI\showStaff</text></g>
<g id="n_b_addcontrib" class="n"><rect x="859" y="4185" width="188" height="26"/><text x="953" y="4202.5">ilObjBlogGUI\addContributor</text></g>
<g id="n_b_remcontrib" class="n"><rect x="849" y="4237" width="209" height="25"/><text x="953.5" y="4254">ilObjBlogGUI\removeContributor</text></g>
<g id="n_e_selassign" class="n"><rect x="864" y="4288" width="178" height="40"/><text x="953" y="4305">ilExerciseManagementGUI</text><text x="953" y="4320">\selectAssignmentObject</text></g>
<g id="n_e_adduser" class="n"><rect x="840" y="4354" width="226" height="39"/><text class="l" x="848" y="4371">ilExerciseManagementGUI</text><text class="l" x="848" y="4386">\addUserFromAutoCompleteObject</text></g>
<g id="n_e_savecomm" class="n"><rect x="864" y="4418" width="178" height="40"/><text x="953" y="4435">ilExerciseManagementGUI</text><text x="953" y="4450">\saveCommentsObject</text></g>
<g id="n_showqedit" class="n"><rect x="871" y="4484" width="164" height="40"/><text x="953" y="4501">ilTestPlayerAbstractGUI</text><text x="953" y="4516">\showQuestionEditable</text></g>
<g id="n_redirq" class="n"><rect x="878" y="4549" width="150" height="40"/><text x="953" y="4566">ilSurveyExecutionGUI</text><text x="953" y="4581">\redirectQuestion</text></g>
<g id="n_preview" class="n"><rect x="878" y="4666" width="150" height="41"/><text x="953" y="4684">ilSurveyExecutionGUI</text><text x="953" y="4699">\preview</text></g>
<g id="n_copyobj" class="n"><rect x="864" y="5081" width="178" height="26"/><text x="953" y="5098.5">ilContainerGUI\copyObject</text></g>
<g id="n_linkobj" class="n"><rect x="868" y="5140" width="170" height="26"/><text x="953" y="5157.5">ilContainerGUI\linkObject</text></g>
<g id="n_cutobj" class="n"><rect x="869" y="5191" width="168" height="26"/><text x="953" y="5208.5">ilContainerGUI\cutObject</text></g>
<g id="n_oupaste" class="n"><rect x="854" y="5292" width="198" height="26"/><text x="953" y="5309.5">ilObjOrgUnitGUI\performPaste</text></g>
<g id="n_sremote" class="n"><rect x="864" y="5342" width="178" height="26"/><text x="953" y="5359.5">ilSearchGUI\remoteSearch</text></g>
<g id="n_sstore" class="n"><rect x="876" y="5392" width="155" height="26"/><text x="953.5" y="5409.5">ilSearchGUI\storeRoot</text></g>
<g id="n_lussearch" class="n"><rect x="872" y="5466" width="162" height="40"/><text x="953" y="5483">ilLuceneUserSearchGUI</text><text x="953" y="5498">\search</text></g>
<g id="n_lussaved" class="n"><rect x="872" y="5539" width="162" height="41"/><text x="953" y="5557">ilLuceneUserSearchGUI</text><text x="953" y="5572">\showSavedResults</text></g>
<g id="n_lssearch" class="n"><rect x="864" y="5613" width="178" height="26"/><text x="953" y="5630.5">ilLuceneSearchGUI\search</text></g>
<g id="n_lsstore" class="n"><rect x="855" y="5665" width="196" height="26"/><text x="953" y="5682.5">ilLuceneSearchGUI\storeRoot</text></g>
<g id="n_uannot" class="n"><rect x="1124" y="5" width="212" height="26"/><text x="1230" y="22.5">ilMDEditorGUI\updateAnnotation</text></g>
<g id="n_uclass" class="n"><rect x="1116" y="56" width="229" height="26"/><text x="1230.5" y="73.5">ilMDEditorGUI\updateClassification</text></g>
<g id="n_uedu" class="n"><rect x="1121" y="107" width="219" height="25"/><text x="1230.5" y="124">ilMDEditorGUI\updateEducational</text></g>
<g id="n_ulife" class="n"><rect x="1129" y="158" width="203" height="25"/><text x="1230.5" y="175">ilMDEditorGUI\updateLifecycle</text></g>
<g id="n_umeta" class="n"><rect x="1141" y="209" width="180" height="40"/><text x="1231" y="226">ilMDEditorGUI\updateMeta</text><text x="1231" y="241">MetaData</text></g>
<g id="n_urel" class="n"><rect x="1131" y="275" width="199" height="26"/><text x="1230.5" y="292.5">ilMDEditorGUI\updateRelation</text></g>
<g id="n_urights" class="n"><rect x="1136" y="326" width="188" height="26"/><text x="1230" y="343.5">ilMDEditorGUI\updateRights</text></g>
<g id="n_utech" class="n"><rect x="1127" y="376" width="207" height="26"/><text x="1230.5" y="393.5">ilMDEditorGUI\updateTechnical</text></g>
<g id="n_addsec" class="n"><rect x="1142" y="427" width="176" height="26"/><text x="1230" y="444.5">ilMDEditorGUI\addSection</text></g>
<g id="n_addsecel" class="n"><rect x="1142" y="478" width="176" height="40"/><text x="1230" y="495">ilMDEditorGUI\addSection</text><text x="1230" y="510">Element</text></g>
<g id="n_delel" class="n"><rect x="1132" y="544" width="195" height="26"/><text x="1229.5" y="561.5">ilMDEditorGUI\deleteElement</text></g>
<g id="n_delsec" class="n"><rect x="1135" y="594" width="191" height="26"/><text x="1230.5" y="611.5">ilMDEditorGUI\deleteSection</text></g>
<g id="n_g_editmember" class="n"><rect x="1141" y="1219" width="179" height="40"/><text x="1230.5" y="1236">ilObjGroupGUI\editMember</text><text x="1230.5" y="1251">Object</text></g>
<g id="n_g_updmembers" class="n"><rect x="1128" y="1284" width="204" height="40"/><text x="1230" y="1301">ilObjGroupGUI\updateMembers</text><text x="1230" y="1316">Object</text></g>
<g id="n_c_updadmin" class="n"><rect x="1133" y="1898" width="195" height="40"/><text x="1230.5" y="1915">ilObjCourseGUI\updateAdmin</text><text x="1230.5" y="1930">StatusObject</text></g>
<g id="n_c_updmemstat" class="n"><rect x="1128" y="1964" width="205" height="40"/><text x="1230.5" y="1981">ilObjCourseGUI\updateMember</text><text x="1230.5" y="1996">StatusObject</text></g>
<g id="n_c_updrole" class="n"><rect x="1138" y="2029" width="185" height="40"/><text x="1230.5" y="2046">ilObjCourseGUI\updateRole</text><text x="1230.5" y="2061">StatusObject</text></g>
<g id="n_c_updtutor" class="n"><rect x="1137" y="2094" width="188" height="40"/><text x="1231" y="2111">ilObjCourseGUI\updateTutor</text><text x="1231" y="2126">StatusObject</text></g>
<g id="n_c_gateway" class="n"><rect x="1127" y="2633" width="207" height="25"/><text x="1230.5" y="2650">ilObjCourseGUI\gatewayObject</text></g>
<g id="n_c_delmembers" class="n"><rect x="1127" y="2936" width="207" height="40"/><text x="1230.5" y="2953">ilObjCourseGUI\deleteMembers</text><text x="1230.5" y="2968">Object</text></g>
<g id="n_c_updmembers" class="n"><rect x="1125" y="3000" width="212" height="41"/><text x="1231" y="3018">ilObjCourseGUI\updateMembers</text><text x="1231" y="3033">Object</text></g>
<g id="n_c_editmember" class="n"><rect x="1137" y="3066" width="188" height="40"/><text x="1231" y="3083">ilObjCourseGUI\editMember</text><text x="1231" y="3098">Object</text></g>
<g id="n_p_gateway" class="n"><rect x="1144" y="3466" width="172" height="41"/><text x="1230" y="3484">ilObjPaymentSettingsGUI</text><text x="1230" y="3499">\gatewayObject</text></g>
<g id="n_p_subtabs" class="n"><rect x="1144" y="3822" width="172" height="41"/><text x="1230" y="3840">ilObjPaymentSettingsGUI</text><text x="1230" y="3855">\getSubTabs</text></g>
<g id="n_o_exec" class="n"><rect x="1143" y="4048" width="175" height="40"/><text x="1230.5" y="4065">ilOrgUnitStaffGUI\execute</text><text x="1230.5" y="4080">Command</text></g>
<g id="n_b_adduserauto" class="n"><rect x="1139" y="4153" width="182" height="40"/><text x="1230" y="4170">ilObjBlogGUI\addUserFrom</text><text x="1230" y="4185">AutoComplete</text></g>
<g id="n_testout" class="n"><rect x="1114" y="4433" width="232" height="25"/><text x="1230" y="4450">ilTestOutputGUI\showQuestionCmd</text></g>
<g id="n_dynq" class="n"><rect x="1134" y="4485" width="194" height="39"/><text x="1231" y="4502">ilTestPlayerDynamicQuestion</text><text x="1231" y="4517">SetGUI\showQuestionCmd</text></g>
<g id="n_checkauth" class="n"><rect x="1155" y="4549" width="151" height="40"/><text x="1230.5" y="4566">ilSurveyExecutionGUI</text><text x="1230.5" y="4581">\checkAuth</text></g>
<g id="n_svexecctor" class="n"><rect x="1153" y="4666" width="155" height="40"/><text x="1230.5" y="4683">ilSurveyExecutionGUI</text><text x="1230.5" y="4698">\ilSurveyExecutionGUI</text></g>
<g id="n_confirmedfin" class="n"><rect x="1155" y="4783" width="151" height="40"/><text x="1230.5" y="4800">ilSurveyExecutionGUI</text><text x="1230.5" y="4815">\confirmedFinish</text></g>
<g id="n_saveactive" class="n"><rect x="1145" y="4849" width="171" height="40"/><text class="l" x="1153" y="4866">ilSurveyExecutionGUI</text><text class="l" x="1153" y="4881">\saveActiveQuestionData</text></g>
<g id="n_exitsurvey" class="n"><rect x="1155" y="4914" width="151" height="40"/><text x="1230.5" y="4931">ilSurveyExecutionGUI</text><text x="1230.5" y="4946">\exitSurvey</text></g>
<g id="n_ouexec" class="n"><rect x="1118" y="5266" width="226" height="26"/><text x="1231" y="5283.5">ilObjOrgUnitGUI\executeCommand</text></g>
<g id="n_lusremote" class="n"><rect x="1150" y="5466" width="162" height="40"/><text x="1231" y="5483">ilLuceneUserSearchGUI</text><text x="1231" y="5498">\remoteSearch</text></g>
<g id="n_lsremote" class="n"><rect x="1141" y="5606" width="179" height="40"/><text x="1230.5" y="5623">ilLuceneSearchGUI\remote</text><text x="1230.5" y="5638">Search</text></g>
<g id="n_c_membergw" class="n"><rect x="1394" y="2969" width="219" height="39"/><text x="1503.5" y="2986">ilObjCourseGUI\memberGateway</text><text x="1503.5" y="3001">Object</text></g>
<g id="n_viewres" class="n"><rect x="1428" y="4480" width="151" height="39"/><text x="1503.5" y="4497">ilSurveyExecutionGUI</text><text x="1503.5" y="4512">\viewUserResults</text></g>
<g id="n_mailres" class="n"><rect x="1428" y="4545" width="151" height="40"/><text x="1503.5" y="4562">ilSurveyExecutionGUI</text><text x="1503.5" y="4577">\mailUserResults</text></g>
<g id="n_start" class="n"><rect x="1428" y="4611" width="151" height="39"/><text x="1503.5" y="4628">ilSurveyExecutionGUI</text><text x="1503.5" y="4643">\start</text></g>
<g id="n_saveinput" class="n"><rect x="1428" y="4791" width="151" height="41"/><text x="1503.5" y="4809">ilSurveyExecutionGUI</text><text x="1503.5" y="4824">\saveUserInput</text></g>
<g id="n_resume" class="n"><rect x="1675" y="4611" width="150" height="39"/><text x="1750" y="4628">ilSurveyExecutionGUI</text><text x="1750" y="4643">\resume</text></g>
<g id="n_previous" class="n"><rect x="1675" y="4736" width="150" height="39"/><text x="1750" y="4753">ilSurveyExecutionGUI</text><text x="1750" y="4768">\previous</text></g>
<g id="n_next" class="n"><rect x="1660" y="4802" width="180" height="24"/><text x="1750" y="4818.5">ilSurveyExecutionGUI\next</text></g>
<g id="n_prevnosave" class="n"><rect x="1888" y="4736" width="151" height="39"/><text x="1963.5" y="4753">ilSurveyExecutionGUI</text><text x="1963.5" y="4768">\previousNoSave</text></g>
</svg>
